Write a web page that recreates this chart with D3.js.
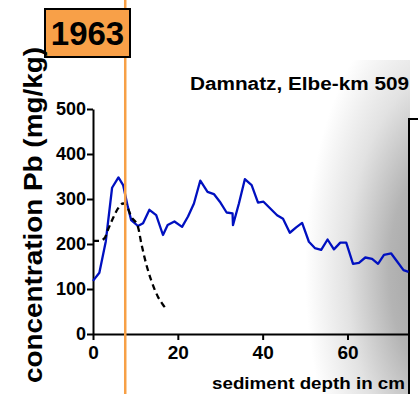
<!DOCTYPE html>
<html>
<head>
	<title>Damnatz Pb profile</title>
	<script type="text/javascript" src="https://cdn.jsdelivr.net/npm/d3@7/dist/d3.min.js"></script>
	<style type="text/css">
		body{ margin:0; background:#fff; }
		text{ font-family: 'Liberation Sans', Arial, sans-serif; font-weight: bold; }
	</style>
</head>
<body>

	<svg width=418 height=394 class="pb-chart"></svg>
	<script type="text/javascript">

		// blue profile: sediment depth (cm) vs Pb (mg/kg)
		depth = [0,1.5,3,4.5,6,7.1,8.2,9,10.6,11.8,13.3,14.9,16.5,17.6,19.2,21,22.4,23.8,25.3,27,28.5,29.9,31.5,32.9,33,34.4,35.8,37.4,38.9,40.2,41.8,43.4,44.8,46.4,47.9,49.3,50.9,52.3,53.8,55.3,56.8,58.3,59.7,61.3,62.7,64.2,65.8,67.2,68.6,70.3,71.7,73.2,74.4]
		pb = [118,136,205,325,348,331,283,253,240,246,276,264,220,242,250,238,261,290,341,316,311,294,270,268,242,290,344,331,292,294,279,264,256,225,237,247,205,191,187,210,188,203,203,156,158,170,167,156,176,179,161,142,138]

		// dashed curve
		fitDepth = [0,1.5,2.8,3.5,4.7,5.9,7.1,7.8,9,10.6,11.4,12.5,13.7,15.3,16.5,17.5]
		fitPb = [207,207,214,231,257,279,290,287,261,238,201,157,120,83,65,53]

		markerDepth = 7.6
		markerLabel = '1963'
		xTicks = [0,20,40,60]
		yTicks = [0,100,200,300,400,500]
		title = 'Damnatz, Elbe-km 509'

		svg = d3.select('.pb-chart')

		x = d3.scaleLinear().domain([0,74.5]).range([93,409])
		y = d3.scaleLinear().domain([0,500]).range([334,109])

		// grey shading on the right
		grad = svg.append('defs').append('radialGradient')
			.attr('id','shade')
			.attr('gradientUnits','userSpaceOnUse')
			.attr('cx',0).attr('cy',0).attr('r',140)
			.attr('gradientTransform','translate(445,270) scale(1,2)')
		grad.append('stop').attr('offset',0).attr('stop-color','#9a9a9a')
		grad.append('stop').attr('offset',0.4).attr('stop-color','#b4b4b4')
		grad.append('stop').attr('offset',0.7).attr('stop-color','#e2e2e2')
		grad.append('stop').attr('offset',1).attr('stop-color','#ffffff')

		svg.append('rect')
			.attr('x',240).attr('y',60).attr('width',170).attr('height',334)
			.attr('fill','url(#shade)')

		// frame of the neighbouring panel
		svg.append('path')
			.attr('d','M409,394 L409,119 L418,119')
			.attr('fill','none').attr('stroke','#000').attr('stroke-width',2)

		svg.append('rect')
			.attr('x',410).attr('y',120).attr('width',8).attr('height',274)
			.attr('fill','#fff')

		// axes
		xAxis = svg.append('g')
			.attr('transform','translate(0,334)')
			.call(d3.axisBottom(x).tickValues(xTicks).tickSize(6).tickPadding(6).tickSizeOuter(0))
		xAxis.selectAll('text').attr('font-size',19).attr('font-family',null).attr('fill','#000')

		yAxis = svg.append('g')
			.attr('transform','translate(93,0)')
			.call(d3.axisLeft(y).tickValues(yTicks).tickSize(6).tickPadding(1).tickSizeOuter(0))
		yAxis.selectAll('text').attr('font-size',18).attr('font-family',null).attr('fill','#000')

		svg.selectAll('.domain, .tick line').attr('stroke','#000').attr('stroke-width',2)

		line = d3.line()
			.x(function(d){ return x(d[0]) })
			.y(function(d){ return y(d[1]) })

		svg.append('path')
			.datum(d3.zip(depth,pb))
			.attr('d', line)
			.attr('fill','none')
			.attr('stroke','#0010c0')
			.attr('stroke-width',2.3)
			.attr('stroke-linejoin','round')

		svg.append('path')
			.datum(d3.zip(fitDepth,fitPb))
			.attr('d', line.curve(d3.curveMonotoneX))
			.attr('fill','none')
			.attr('stroke','#000')
			.attr('stroke-width',2.3)
			.attr('stroke-dasharray','6,4')

		// 1963 marker
		svg.append('line')
			.attr('x1',x(markerDepth)).attr('x2',x(markerDepth))
			.attr('y1',0).attr('y2',394)
			.attr('stroke','#f7a046').attr('stroke-width',2.5)

		svg.append('rect')
			.attr('x',45).attr('y',9).attr('width',85).attr('height',48)
			.attr('fill','#f8a048').attr('stroke','#000').attr('stroke-width',2)

		svg.append('text')
			.attr('x',87.5).attr('y',45)
			.attr('text-anchor','middle')
			.attr('font-size',33)
			.text(markerLabel)

		// labels
		svg.append('text')
			.attr('x',190).attr('y',90)
			.attr('font-size',18)
			.attr('textLength',219).attr('lengthAdjust','spacingAndGlyphs')
			.text(title)

		svg.append('text')
			.attr('x',212).attr('y',389)
			.attr('font-size',16.5)
			.attr('textLength',193).attr('lengthAdjust','spacingAndGlyphs')
			.text('sediment depth in cm')

		svg.append('text')
			.attr('transform','translate(42,383) rotate(-90)')
			.attr('font-size',25)
			.attr('textLength',336).attr('lengthAdjust','spacingAndGlyphs')
			.text('concentration Pb (mg/kg)')

	</script>
	
</body>
</html>
